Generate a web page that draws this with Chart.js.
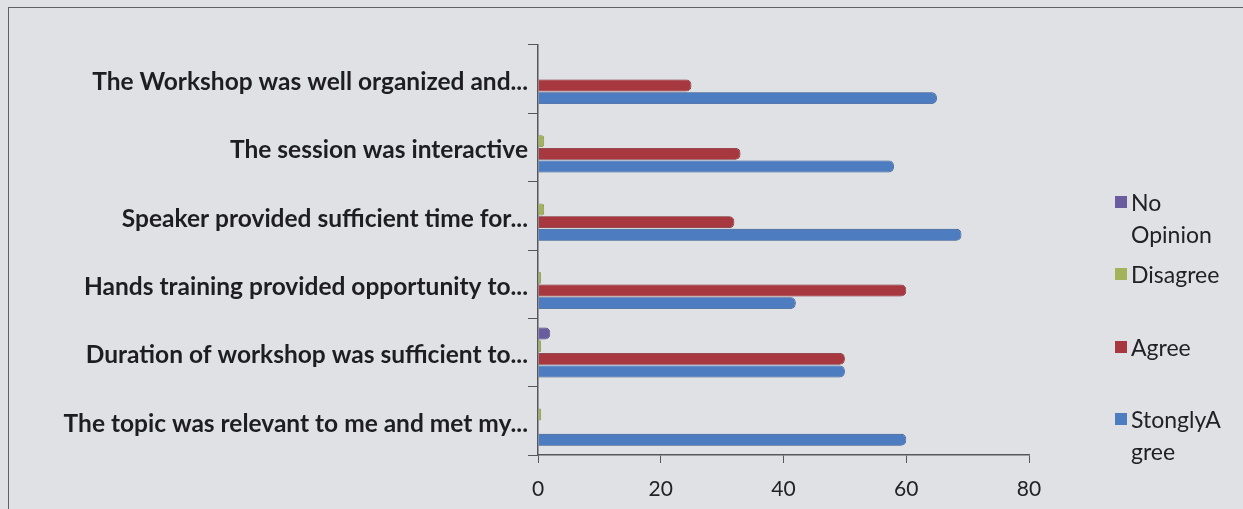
<!DOCTYPE html>
<html>
<head>
<meta charset="utf-8">
<script src="https://cdn.jsdelivr.net/npm/chart.js@4.4.1/dist/chart.umd.min.js"></script>
<style>
  html, body { margin: 0; padding: 0; background: #dfe1e4; }
  #wrap { position: relative; width: 1243px; height: 509px; overflow: hidden; background: #dfe1e4; }
  #frame { position: absolute; left: 8px; top: 7px; width: 1250px; height: 520px; border: 1.5px solid #5f6166; box-sizing: border-box; }
  canvas { position: absolute; left: 0; top: 0; }
  #legend { position: absolute; left: 1114px; top: 186px; font-family: Lato, "Open Sans", sans-serif; font-size: 23px; color: #222226; line-height: 32px; }
  .item { position: absolute; left: 0; width: 128px; }
  .sw { position: absolute; left: 1px; top: 10px; width: 12px; height: 12px; }
  .tx { position: absolute; left: 17px; top: 0; white-space: pre; }
</style>
</head>
<body>
<div id="wrap">
  <div id="frame"></div>
  <canvas id="c" width="1243" height="509"></canvas>
  <div id="legend"></div>
</div>
<script>
const categories = [
  "The Workshop was well organized and...",
  "The session was interactive",
  "Speaker provided sufficient time for...",
  "Hands training provided opportunity to...",
  "Duration of workshop was sufficient to...",
  "The topic was relevant to me and met my..."
];
const noOpinion    = [0, 0, 0, 0, 2, 0];
const disagree     = [0, 1, 1, 0.5, 0.5, 0.5];
const agree        = [25, 33, 32, 60, 50, 0];
const stronglyAgree = [65, 58, 69, 42, 50, 60];
const xTicks = [0, 20, 40, 60, 80];

const seriesNames = ["No\nOpinion", "Disagree", "Agree", "StonglyA\ngree"];
const colors = ["#6b5c9e", "#a3b35c", "#a8383f", "#4d7cc0"];
const edge = ["#4a3f75", "#7b8a3a", "#7a2228", "#2f5590"];

function cyl(ctx, i) {
  const chart = ctx.chart;
  const el = ctx.element;
  if (!el || !chart.chartArea) return colors[i];
  const y = el.y, h = el.height;
  if (!isFinite(y) || !isFinite(h) || h <= 0) return colors[i];
  const g = chart.ctx.createLinearGradient(0, y - h / 2, 0, y + h / 2);
  g.addColorStop(0, edge[i]);
  g.addColorStop(0.3, colors[i]);
  g.addColorStop(0.7, colors[i]);
  g.addColorStop(1, edge[i]);
  return g;
}

const seriesData = [noOpinion, disagree, agree, stronglyAgree];
const datasets = seriesData.map((d, i) => ({
  label: seriesNames[i],
  data: d,
  backgroundColor: (ctx) => cyl(ctx, i),
  borderColor: edge[i],
  borderWidth: 0.8,
  borderSkipped: 'start',
  borderRadius: { topRight: 5, bottomRight: 5 },
  categoryPercentage: 0.74,
  barPercentage: 0.94
}));

new Chart(document.getElementById('c'), {
  type: 'bar',
  data: { labels: categories, datasets },
  options: {
    indexAxis: 'y',
    responsive: false,
    animation: false,
    layout: { padding: { top: 45, right: 214, left: 0, bottom: 0 } },
    plugins: { legend: { display: false }, tooltip: { enabled: false } },
    scales: {
      x: {
        min: 0, max: 80,
        afterBuildTicks: (axis) => { axis.ticks = xTicks.map(v => ({ value: v })); },
        afterFit: (axis) => { axis.height = 54; },
        grid: { drawOnChartArea: false, drawTicks: true, tickLength: 8, color: '#55575c' },
        border: { display: true, color: '#55575c', width: 1.5 },
        ticks: { color: '#222226', font: { family: 'Lato, "Open Sans", sans-serif', size: 21 }, padding: 14, maxRotation: 0 }
      },
      y: {
        afterFit: (axis) => { axis.width = 538; },
        grid: { drawOnChartArea: false, drawTicks: true, tickLength: 10, offset: true, color: '#55575c' },
        border: { display: true, color: '#55575c', width: 1.5 },
        ticks: { color: '#1e1e22', font: { family: 'Lato, "Open Sans", sans-serif', size: 24.5, weight: 'bold' }, padding: 0, labelOffset: 3 }
      }
    }
  }
});

const legend = document.getElementById('legend');
const tops = [0, 72, 145, 217];
[0, 1, 2, 3].forEach(i => {
  const it = document.createElement('div');
  it.className = 'item';
  it.style.top = tops[i] + 'px';
  it.innerHTML = '<div class="sw" style="background:' + colors[i] + '"></div><div class="tx"></div>';
  it.querySelector('.tx').textContent = seriesNames[i];
  legend.appendChild(it);
});
</script>
</body>
</html>
